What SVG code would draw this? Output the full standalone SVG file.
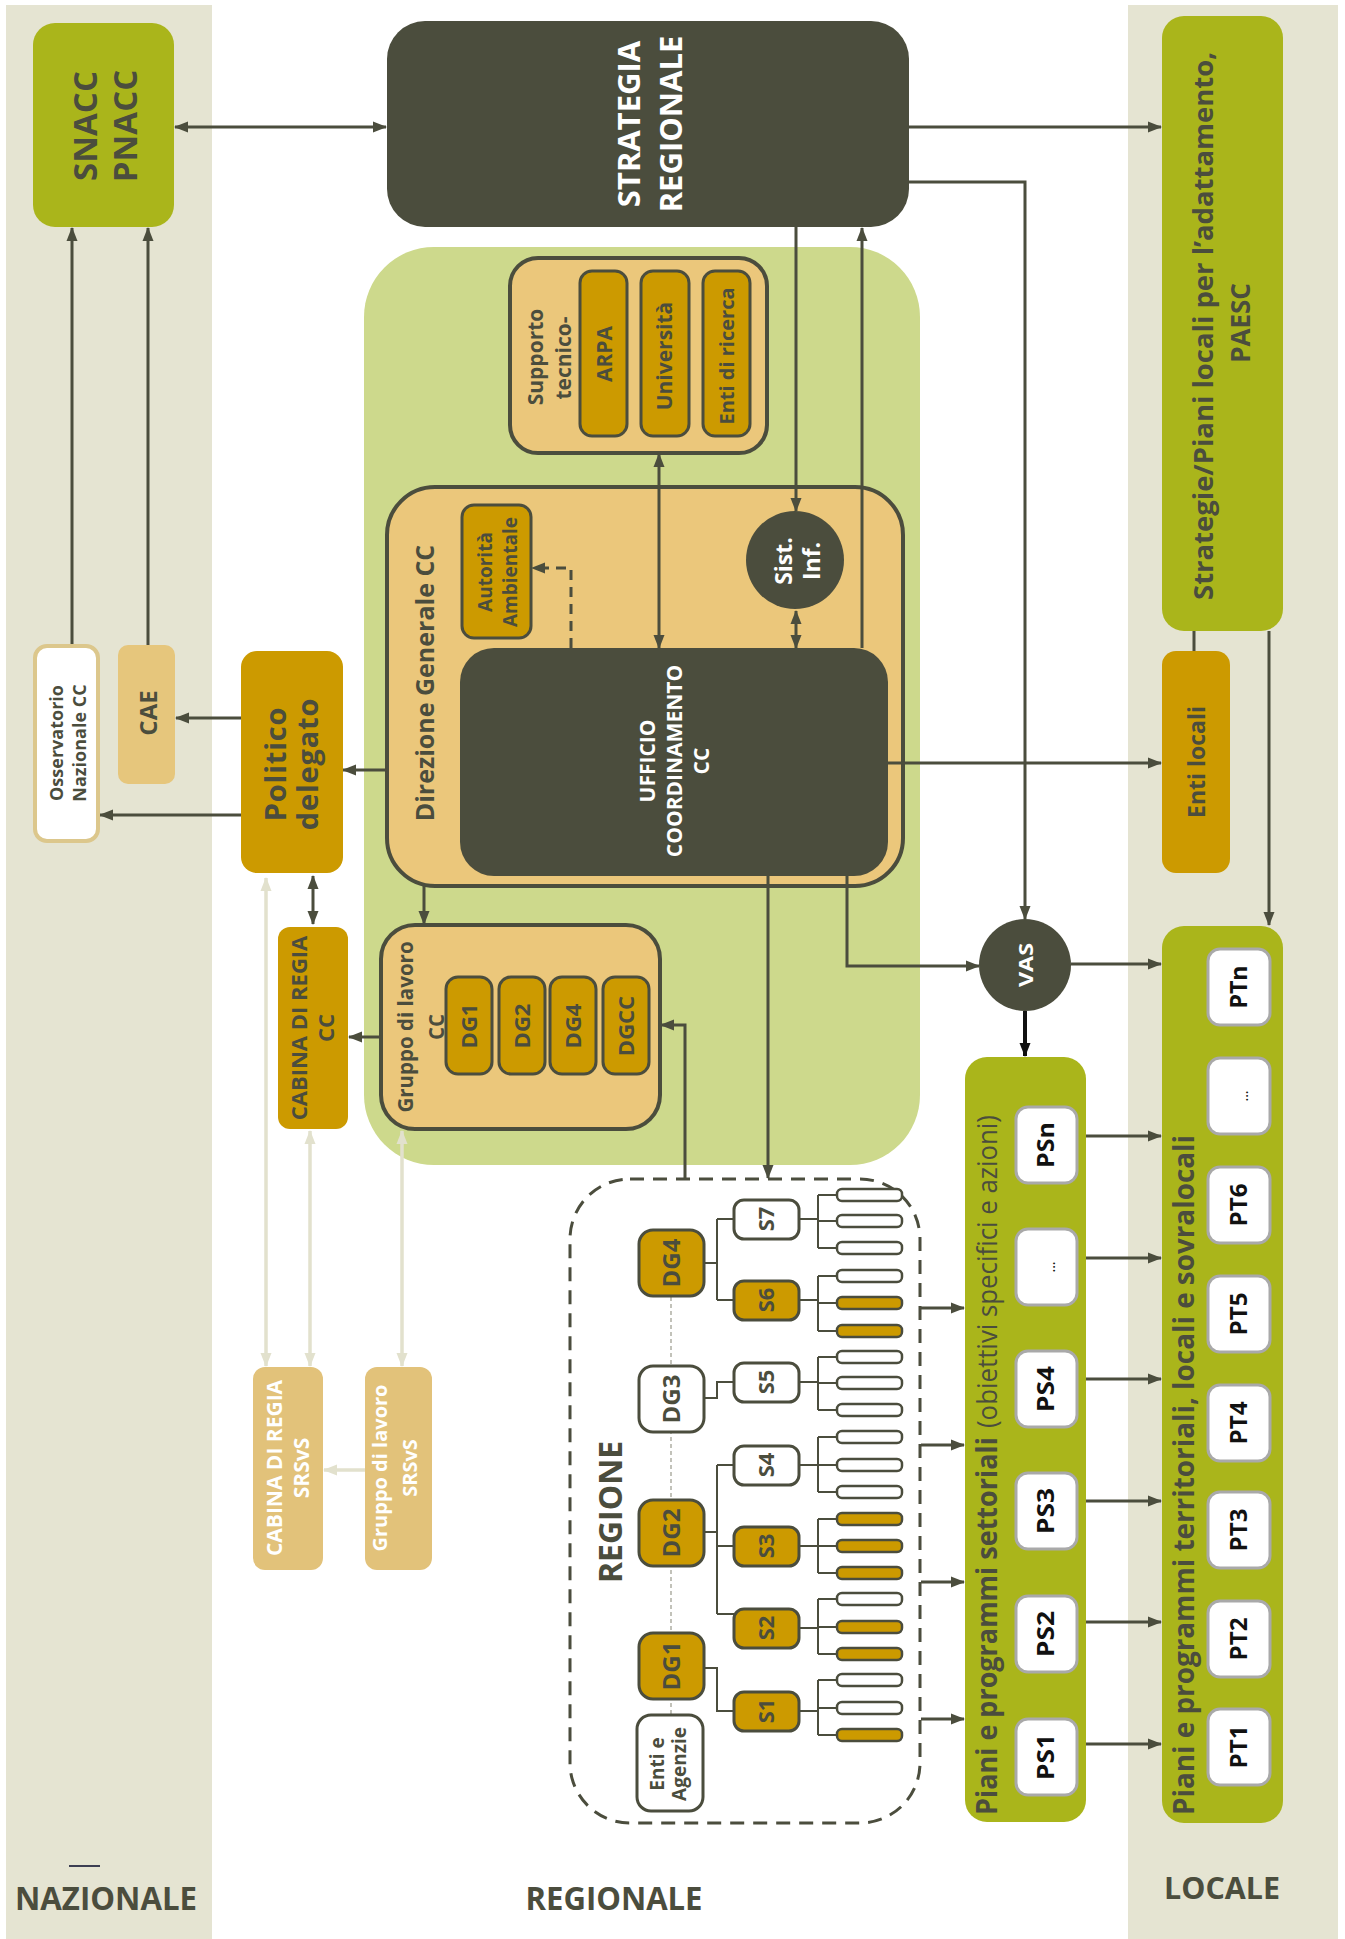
<svg xmlns="http://www.w3.org/2000/svg" width="1345" height="1939" viewBox="0 0 1345 1939">
<style>
.t{font-family:"Open Sans","Noto Sans","DejaVu Sans",sans-serif;font-weight:700}
.s{font-weight:700}
.r{font-weight:400}
.d{fill:#4b4d3d}
.w{fill:#ffffff}
.k{fill:#111111}
.olive{fill:#aab51b}
.must{fill:#cc9a00}
.mustb{fill:#cc9a00;stroke:#4b4d3d;stroke-width:3}
.dark{fill:#4b4d3d}
.tan{fill:#ebc77b;stroke:#4b4d3d;stroke-width:4}
.wbox{fill:#ffffff;stroke:#a9a9a9;stroke-width:3}
.ln{fill:none;stroke:#4b4d3d;stroke-width:3}
.tl{fill:none;stroke:#4b4d3d;stroke-width:2}
.lt{fill:none;stroke:#e2e1cd;stroke-width:3.5}
.bar{stroke:#4b4d3d;stroke-width:2.5}
</style>
<defs>
<marker id="a" viewBox="0 0 14 12" refX="13" refY="6" markerWidth="14" markerHeight="12" markerUnits="userSpaceOnUse" orient="auto-start-reverse"><path d="M0,0.5 L14,6 L0,11.5 z" fill="#4b4d3d"/></marker>
<marker id="al" viewBox="0 0 14 12" refX="13" refY="6" markerWidth="14" markerHeight="12" markerUnits="userSpaceOnUse" orient="auto-start-reverse"><path d="M0,0.5 L14,6 L0,11.5 z" fill="#e2e1cd"/></marker>
<marker id="ab" viewBox="0 0 14 12" refX="13" refY="6" markerWidth="14" markerHeight="12" markerUnits="userSpaceOnUse" orient="auto-start-reverse"><path d="M0,0.5 L14,6 L0,11.5 z" fill="#111111"/></marker>
</defs>

<!-- bands -->
<g id="bands">
<rect x="6" y="5" width="206" height="1934" fill="#e5e4d2"/>
<rect x="1128" y="5" width="210" height="1934" fill="#e5e4d2"/>
</g>

<!-- containers -->
<g id="area-cc">
<rect x="364" y="247" width="556" height="918" rx="70" fill="#cdd98c"/>
</g>
<g id="supporto">
<rect x="510" y="258" width="257" height="195" rx="28" class="tan"/>
<text class="t d" font-size="21" transform="translate(543,357) rotate(-90)" text-anchor="middle">Supporto</text>
<text class="t d" font-size="21" transform="translate(571,358) rotate(-90)" text-anchor="middle">tecnico-</text>
</g>
<g id="direzione">
<rect x="387" y="487" width="516" height="399" rx="48" class="tan"/>
<text class="t s d" font-size="25" transform="translate(434,683) rotate(-90)" text-anchor="middle">Direzione Generale CC</text>
</g>
<g id="gruppo-cc">
<rect x="381" y="925" width="279" height="204" rx="34" class="tan"/>
<text class="t s d" font-size="20.5" transform="translate(413,1027) rotate(-90)" text-anchor="middle">Gruppo di lavoro</text>
<text class="t s d" font-size="20.5" transform="translate(444,1027) rotate(-90)" text-anchor="middle">CC</text>
</g>
<g id="regione">
<rect x="570" y="1179" width="350" height="644" rx="60" fill="none" stroke="#4b4d3d" stroke-width="3" stroke-dasharray="14 9"/>
<text class="t d" font-size="32" transform="translate(622,1512) rotate(-90)" text-anchor="middle">REGIONE</text>
</g>
<g id="piani-settoriali">
<rect x="965" y="1057" width="121" height="765" rx="22" class="olive"/>
<text class="t s d" font-size="28" transform="translate(997,1815) rotate(-90)" textLength="378" lengthAdjust="spacingAndGlyphs">Piani e programmi settoriali</text>
<text class="t r d" font-size="27" transform="translate(997,1428) rotate(-90)" textLength="313" lengthAdjust="spacingAndGlyphs">(obiettivi specifici e azioni)</text>
</g>
<g id="piani-territoriali">
<rect x="1162" y="926" width="121" height="897" rx="22" class="olive"/>
<text class="t s d" font-size="28" transform="translate(1194,1815) rotate(-90)" textLength="680" lengthAdjust="spacingAndGlyphs">Piani e programmi territoriali, locali e sovralocali</text>
</g>

<!-- connectors -->
<g id="connectors">
<path class="ln" d="M175,127 H386" marker-start="url(#a)" marker-end="url(#a)"/>
<path class="ln" d="M909,127 H1161" marker-end="url(#a)"/>
<path class="ln" d="M909,182 H1025 V919" marker-end="url(#a)"/>
<path class="ln" d="M796,227 V511" marker-end="url(#a)"/>
<path class="ln" d="M862,648 V228" marker-end="url(#a)"/>
<path class="ln" d="M796,611 V648" marker-start="url(#a)" marker-end="url(#a)"/>
<path class="ln" d="M659,454 V648" marker-start="url(#a)" marker-end="url(#a)"/>
<path class="ln" d="M571,648 V568 H532" stroke-dasharray="10 7" marker-end="url(#a)"/>
<path class="ln" d="M387,770 H343" marker-end="url(#a)"/>
<path class="ln" d="M241,718 H176" marker-end="url(#a)"/>
<path class="ln" d="M241,815 H100" marker-end="url(#a)"/>
<path class="ln" d="M72,645 V228" marker-end="url(#a)"/>
<path class="ln" d="M148,645 V228" marker-end="url(#a)"/>
<path class="ln" d="M313,876 V924" marker-start="url(#a)" marker-end="url(#a)"/>
<path class="ln" d="M381,1037 H349" marker-end="url(#a)"/>
<path class="ln" d="M424,886 V924" marker-end="url(#a)"/>
<path class="ln" d="M888,763 H1161" marker-end="url(#a)"/>
<path class="ln" d="M847,876 V966 H979" marker-end="url(#a)"/>
<path class="ln" d="M768,876 V1178" marker-end="url(#a)"/>
<path class="ln" d="M685,1179 V1025 H661" marker-end="url(#a)"/>
<path class="ln" d="M1071,964 H1161" marker-end="url(#a)"/>
<path fill="none" stroke="#111111" stroke-width="4" d="M1025,1011 V1056" marker-end="url(#ab)"/>
<path class="ln" d="M1194,631 V651"/>
<path class="ln" d="M1269,631 V925" marker-end="url(#a)"/>
<path class="ln" d="M921,1308 H964" marker-end="url(#a)"/>
<path class="ln" d="M921,1445 H964" marker-end="url(#a)"/>
<path class="ln" d="M921,1582 H964" marker-end="url(#a)"/>
<path class="ln" d="M921,1719 H964" marker-end="url(#a)"/>
<path class="ln" d="M1086,1136 H1161" marker-end="url(#a)"/>
<path class="ln" d="M1086,1258 H1161" marker-end="url(#a)"/>
<path class="ln" d="M1086,1379 H1161" marker-end="url(#a)"/>
<path class="ln" d="M1086,1501 H1161" marker-end="url(#a)"/>
<path class="ln" d="M1086,1622 H1161" marker-end="url(#a)"/>
<path class="ln" d="M1086,1744 H1161" marker-end="url(#a)"/>
<path class="lt" d="M266,878 V1366" marker-start="url(#al)" marker-end="url(#al)"/>
<path class="lt" d="M310,1131 V1366" marker-start="url(#al)" marker-end="url(#al)"/>
<path class="lt" d="M402,1131 V1366" marker-start="url(#al)" marker-end="url(#al)"/>
<path class="lt" d="M365,1470 H324" marker-end="url(#al)"/>
<!-- regione tree -->
<path fill="none" stroke="#9a9a8c" stroke-width="1.2" stroke-dasharray="4 3" d="M671,1297 V1715"/>
<path class="tl" d="M704,1263 H717 M717,1219 V1300 M717,1219 H734 M717,1300 H734"/>
<path class="tl" d="M704,1398 H717 V1382 H734"/>
<path class="tl" d="M704,1532 H717 M717,1465 V1614 M717,1465 H734 M717,1546 H734 M717,1614 H734"/>
<path class="tl" d="M704,1668 H717 V1711 H734"/>
<path class="tl" d="M799,1219 H818 M818,1195 V1248 M818,1195 H837 M818,1221 H837 M818,1248 H837"/>
<path class="tl" d="M799,1300 H818 M818,1276 V1331 M818,1276 H837 M818,1303 H837 M818,1331 H837"/>
<path class="tl" d="M799,1382 H818 M818,1357 V1410 M818,1357 H837 M818,1383 H837 M818,1410 H837"/>
<path class="tl" d="M799,1465 H818 M818,1437 V1492 M818,1437 H837 M818,1465 H837 M818,1492 H837"/>
<path class="tl" d="M799,1546 H818 M818,1519 V1573 M818,1519 H837 M818,1546 H837 M818,1573 H837"/>
<path class="tl" d="M799,1628 H818 M818,1599 V1654 M818,1599 H837 M818,1627 H837 M818,1654 H837"/>
<path class="tl" d="M799,1711 H818 M818,1680 V1735 M818,1680 H837 M818,1708 H837 M818,1735 H837"/>
</g>

<!-- nodes -->
<g id="snacc">
<rect x="33" y="23" width="141" height="204" rx="22" class="olive"/>
<text class="t d" font-size="33" transform="translate(97,126) rotate(-90)" text-anchor="middle">SNACC</text>
<text class="t d" font-size="33" transform="translate(137,126) rotate(-90)" text-anchor="middle">PNACC</text>
</g>
<g id="strategia">
<rect x="387" y="21" width="522" height="206" rx="38" class="dark"/>
<text class="t w" font-size="31" transform="translate(640,124) rotate(-90)" text-anchor="middle">STRATEGIA</text>
<text class="t w" font-size="31" transform="translate(682,124) rotate(-90)" text-anchor="middle">REGIONALE</text>
</g>
<g id="strategie-locali">
<rect x="1162" y="16" width="121" height="615" rx="22" class="olive"/>
<text class="t s d" font-size="26" transform="translate(1213,326) rotate(-90)" text-anchor="middle" textLength="548" lengthAdjust="spacingAndGlyphs">Strategie/Piani locali per l’adattamento,</text>
<text class="t s d" font-size="26" transform="translate(1250,323) rotate(-90)" text-anchor="middle">PAESC</text>
</g>
<g id="enti-locali">
<rect x="1162" y="651" width="68" height="222" rx="14" class="must"/>
<text class="t s d" font-size="23" transform="translate(1205,762) rotate(-90)" text-anchor="middle">Enti locali</text>
</g>
<g id="osservatorio">
<rect x="35" y="646" width="63" height="195" rx="12" fill="#ffffff" stroke="#dcc78c" stroke-width="4"/>
<text class="t d" font-size="18" transform="translate(63,743) rotate(-90)" text-anchor="middle">Osservatorio</text>
<text class="t d" font-size="18" transform="translate(86,743) rotate(-90)" text-anchor="middle">Nazionale CC</text>
</g>
<g id="cae">
<rect x="118" y="645" width="57" height="139" rx="10" fill="#e6c67c"/>
<text class="t d" font-size="24" transform="translate(157,713) rotate(-90)" text-anchor="middle">CAE</text>
</g>
<g id="politico">
<rect x="241" y="651" width="102" height="222" rx="16" class="must"/>
<text class="t d" font-size="29" letter-spacing="0.8" transform="translate(286,764) rotate(-90)" text-anchor="middle">Politico</text>
<text class="t d" font-size="29" letter-spacing="0.8" transform="translate(318,764) rotate(-90)" text-anchor="middle">delegato</text>
</g>
<g id="cabina-cc">
<rect x="278" y="927" width="70" height="202" rx="12" class="must"/>
<text class="t d" font-size="22" transform="translate(307,1028) rotate(-90)" text-anchor="middle">CABINA DI REGIA</text>
<text class="t d" font-size="22" transform="translate(334,1028) rotate(-90)" text-anchor="middle">CC</text>
</g>
<g id="cabina-srsvs">
<rect x="253" y="1367" width="70" height="203" rx="12" fill="#e2c27a"/>
<text class="t w" font-size="21" transform="translate(282,1468) rotate(-90)" text-anchor="middle">CABINA DI REGIA</text>
<text class="t w" font-size="21" transform="translate(309,1468) rotate(-90)" text-anchor="middle">SRSvS</text>
</g>
<g id="gruppo-srsvs">
<rect x="365" y="1367" width="67" height="203" rx="12" fill="#e2c27a"/>
<text class="t w" font-size="20" transform="translate(387,1468) rotate(-90)" text-anchor="middle">Gruppo di lavoro</text>
<text class="t w" font-size="20" transform="translate(417,1468) rotate(-90)" text-anchor="middle">SRSvS</text>
</g>
<g id="arpa">
<rect x="580" y="271" width="47" height="165" rx="12" class="mustb"/>
<text class="t d" font-size="21" transform="translate(612,354) rotate(-90)" text-anchor="middle">ARPA</text>
</g>
<g id="universita">
<rect x="641" y="271" width="48" height="165" rx="12" class="mustb"/>
<text class="t d" font-size="21" transform="translate(672,356) rotate(-90)" text-anchor="middle">Università</text>
</g>
<g id="enti-ricerca">
<rect x="703" y="271" width="47" height="165" rx="12" class="mustb"/>
<text class="t d" font-size="20" transform="translate(734,356) rotate(-90)" text-anchor="middle">Enti di ricerca</text>
</g>
<g id="autorita">
<rect x="462" y="505" width="69" height="133" rx="12" class="mustb"/>
<text class="t d" font-size="19" transform="translate(492,572) rotate(-90)" text-anchor="middle">Autorità</text>
<text class="t d" font-size="19" transform="translate(517,572) rotate(-90)" text-anchor="middle">Ambientale</text>
</g>
<g id="sist-inf">
<circle cx="795" cy="560" r="49" class="dark"/>
<text class="t w" font-size="23" transform="translate(792,561) rotate(-90)" text-anchor="middle">Sist.</text>
<text class="t w" font-size="23" transform="translate(820,561) rotate(-90)" text-anchor="middle">Inf.</text>
</g>
<g id="ufficio">
<rect x="460" y="648" width="428" height="228" rx="34" class="dark"/>
<text class="t w" font-size="21" transform="translate(655,761) rotate(-90)" text-anchor="middle">UFFICIO</text>
<text class="t w" font-size="21" transform="translate(682,761) rotate(-90)" text-anchor="middle">COORDINAMENTO</text>
<text class="t w" font-size="21" transform="translate(709,761) rotate(-90)" text-anchor="middle">CC</text>
</g>
<g id="gruppo-dg">
<rect x="446" y="977" width="46" height="97" rx="12" class="mustb"/>
<rect x="499" y="977" width="46" height="97" rx="12" class="mustb"/>
<rect x="550" y="977" width="46" height="97" rx="12" class="mustb"/>
<rect x="603" y="977" width="46" height="97" rx="12" class="mustb"/>
<text class="t d" font-size="22" transform="translate(477,1026) rotate(-90)" text-anchor="middle">DG1</text>
<text class="t d" font-size="22" transform="translate(530,1026) rotate(-90)" text-anchor="middle">DG2</text>
<text class="t d" font-size="22" transform="translate(581,1026) rotate(-90)" text-anchor="middle">DG4</text>
<text class="t d" font-size="22" transform="translate(634,1026) rotate(-90)" text-anchor="middle">DGCC</text>
</g>
<g id="regione-dg">
<rect x="637" y="1715" width="66" height="96" rx="14" fill="#ffffff" stroke="#4b4d3d" stroke-width="3"/>
<text class="t s d" font-size="19" transform="translate(664,1764) rotate(-90)" text-anchor="middle">Enti e</text>
<text class="t s d" font-size="19" transform="translate(686,1764) rotate(-90)" text-anchor="middle">Agenzie</text>
<rect x="639" y="1633" width="65" height="66" rx="14" class="mustb"/>
<rect x="639" y="1500" width="65" height="66" rx="14" class="mustb"/>
<rect x="639" y="1366" width="65" height="66" rx="14" fill="#ffffff" stroke="#4b4d3d" stroke-width="3"/>
<rect x="639" y="1230" width="65" height="66" rx="14" class="mustb"/>
<text class="t d" font-size="24" transform="translate(680,1666) rotate(-90)" text-anchor="middle">DG1</text>
<text class="t d" font-size="24" transform="translate(680,1533) rotate(-90)" text-anchor="middle">DG2</text>
<text class="t d" font-size="24" transform="translate(680,1399) rotate(-90)" text-anchor="middle">DG3</text>
<text class="t d" font-size="24" transform="translate(680,1263) rotate(-90)" text-anchor="middle">DG4</text>
</g>
<g id="regione-s">
<rect x="734" y="1200" width="65" height="39" rx="10" fill="#ffffff" stroke="#4b4d3d" stroke-width="3"/>
<rect x="734" y="1281" width="65" height="39" rx="10" class="mustb"/>
<rect x="734" y="1363" width="65" height="39" rx="10" fill="#ffffff" stroke="#4b4d3d" stroke-width="3"/>
<rect x="734" y="1446" width="65" height="39" rx="10" fill="#ffffff" stroke="#4b4d3d" stroke-width="3"/>
<rect x="734" y="1527" width="65" height="39" rx="10" class="mustb"/>
<rect x="734" y="1609" width="65" height="39" rx="10" class="mustb"/>
<rect x="734" y="1692" width="65" height="39" rx="10" class="mustb"/>
<text class="t d" font-size="22" transform="translate(774,1219) rotate(-90)" text-anchor="middle">S7</text>
<text class="t d" font-size="22" transform="translate(774,1300) rotate(-90)" text-anchor="middle">S6</text>
<text class="t d" font-size="22" transform="translate(774,1382) rotate(-90)" text-anchor="middle">S5</text>
<text class="t d" font-size="22" transform="translate(774,1465) rotate(-90)" text-anchor="middle">S4</text>
<text class="t d" font-size="22" transform="translate(774,1546) rotate(-90)" text-anchor="middle">S3</text>
<text class="t d" font-size="22" transform="translate(774,1628) rotate(-90)" text-anchor="middle">S2</text>
<text class="t d" font-size="22" transform="translate(774,1711) rotate(-90)" text-anchor="middle">S1</text>
</g>
<g id="regione-uffici">
<rect class="bar" x="837" y="1189" width="65" height="12" rx="5" fill="#ffffff"/>
<rect class="bar" x="837" y="1215" width="65" height="12" rx="5" fill="#ffffff"/>
<rect class="bar" x="837" y="1242" width="65" height="12" rx="5" fill="#ffffff"/>
<rect class="bar" x="837" y="1270" width="65" height="12" rx="5" fill="#ffffff"/>
<rect class="bar" x="837" y="1297" width="65" height="12" rx="5" fill="#cc9a00"/>
<rect class="bar" x="837" y="1325" width="65" height="12" rx="5" fill="#cc9a00"/>
<rect class="bar" x="837" y="1351" width="65" height="12" rx="5" fill="#ffffff"/>
<rect class="bar" x="837" y="1377" width="65" height="12" rx="5" fill="#ffffff"/>
<rect class="bar" x="837" y="1404" width="65" height="12" rx="5" fill="#ffffff"/>
<rect class="bar" x="837" y="1431" width="65" height="12" rx="5" fill="#ffffff"/>
<rect class="bar" x="837" y="1459" width="65" height="12" rx="5" fill="#ffffff"/>
<rect class="bar" x="837" y="1486" width="65" height="12" rx="5" fill="#ffffff"/>
<rect class="bar" x="837" y="1513" width="65" height="12" rx="5" fill="#cc9a00"/>
<rect class="bar" x="837" y="1540" width="65" height="12" rx="5" fill="#cc9a00"/>
<rect class="bar" x="837" y="1567" width="65" height="12" rx="5" fill="#cc9a00"/>
<rect class="bar" x="837" y="1593" width="65" height="12" rx="5" fill="#ffffff"/>
<rect class="bar" x="837" y="1621" width="65" height="12" rx="5" fill="#cc9a00"/>
<rect class="bar" x="837" y="1648" width="65" height="12" rx="5" fill="#cc9a00"/>
<rect class="bar" x="837" y="1674" width="65" height="12" rx="5" fill="#ffffff"/>
<rect class="bar" x="837" y="1702" width="65" height="12" rx="5" fill="#ffffff"/>
<rect class="bar" x="837" y="1729" width="65" height="12" rx="5" fill="#cc9a00"/>
</g>
<g id="vas">
<circle cx="1025" cy="965" r="46" class="dark"/>
<text class="t w" font-size="20" transform="translate(1033,965) rotate(-90)" text-anchor="middle" textLength="44" lengthAdjust="spacingAndGlyphs">VAS</text>
</g>
<g id="ps-boxes">
<rect class="wbox" x="1016" y="1107" width="61" height="76" rx="12"/>
<rect class="wbox" x="1016" y="1229" width="61" height="76" rx="12"/>
<rect class="wbox" x="1016" y="1351" width="61" height="76" rx="12"/>
<rect class="wbox" x="1016" y="1473" width="61" height="76" rx="12"/>
<rect class="wbox" x="1016" y="1596" width="61" height="76" rx="12"/>
<rect class="wbox" x="1016" y="1719" width="61" height="76" rx="12"/>
<text class="t k" font-size="24" transform="translate(1054,1145) rotate(-90)" text-anchor="middle" textLength="46" lengthAdjust="spacingAndGlyphs">PSn</text>
<text class="t r k" font-size="14" transform="translate(1055,1267) rotate(-90)" text-anchor="middle">...</text>
<text class="t k" font-size="24" transform="translate(1054,1389) rotate(-90)" text-anchor="middle" textLength="46" lengthAdjust="spacingAndGlyphs">PS4</text>
<text class="t k" font-size="24" transform="translate(1054,1511) rotate(-90)" text-anchor="middle" textLength="46" lengthAdjust="spacingAndGlyphs">PS3</text>
<text class="t k" font-size="24" transform="translate(1054,1634) rotate(-90)" text-anchor="middle" textLength="46" lengthAdjust="spacingAndGlyphs">PS2</text>
<text class="t k" font-size="24" transform="translate(1054,1757) rotate(-90)" text-anchor="middle" textLength="46" lengthAdjust="spacingAndGlyphs">PS1</text>
</g>
<g id="pt-boxes">
<rect class="wbox" x="1208" y="949" width="62" height="76" rx="12"/>
<rect class="wbox" x="1208" y="1058" width="62" height="76" rx="12"/>
<rect class="wbox" x="1208" y="1167" width="62" height="76" rx="12"/>
<rect class="wbox" x="1208" y="1276" width="62" height="76" rx="12"/>
<rect class="wbox" x="1208" y="1385" width="62" height="76" rx="12"/>
<rect class="wbox" x="1208" y="1492" width="62" height="76" rx="12"/>
<rect class="wbox" x="1208" y="1601" width="62" height="76" rx="12"/>
<rect class="wbox" x="1208" y="1709" width="62" height="76" rx="12"/>
<text class="t k" font-size="24" transform="translate(1247,987) rotate(-90)" text-anchor="middle" textLength="43" lengthAdjust="spacingAndGlyphs">PTn</text>
<text class="t r k" font-size="14" transform="translate(1248,1096) rotate(-90)" text-anchor="middle">...</text>
<text class="t k" font-size="24" transform="translate(1247,1205) rotate(-90)" text-anchor="middle" textLength="43" lengthAdjust="spacingAndGlyphs">PT6</text>
<text class="t k" font-size="24" transform="translate(1247,1314) rotate(-90)" text-anchor="middle" textLength="43" lengthAdjust="spacingAndGlyphs">PT5</text>
<text class="t k" font-size="24" transform="translate(1247,1423) rotate(-90)" text-anchor="middle" textLength="43" lengthAdjust="spacingAndGlyphs">PT4</text>
<text class="t k" font-size="24" transform="translate(1247,1530) rotate(-90)" text-anchor="middle" textLength="43" lengthAdjust="spacingAndGlyphs">PT3</text>
<text class="t k" font-size="24" transform="translate(1247,1639) rotate(-90)" text-anchor="middle" textLength="43" lengthAdjust="spacingAndGlyphs">PT2</text>
<text class="t k" font-size="24" transform="translate(1247,1747) rotate(-90)" text-anchor="middle" textLength="43" lengthAdjust="spacingAndGlyphs">PT1</text>
</g>
<g id="labels">
<line x1="69" y1="1866" x2="100" y2="1866" stroke="#3c3e52" stroke-width="2"/>
<text class="t d" font-size="32" x="106" y="1910" text-anchor="middle" textLength="182" lengthAdjust="spacingAndGlyphs">NAZIONALE</text>
<text class="t d" font-size="32" x="614" y="1910" text-anchor="middle" textLength="177" lengthAdjust="spacingAndGlyphs">REGIONALE</text>
<text class="t d" font-size="31" x="1222" y="1899" text-anchor="middle" textLength="116" lengthAdjust="spacingAndGlyphs">LOCALE</text>
</g>
</svg>
